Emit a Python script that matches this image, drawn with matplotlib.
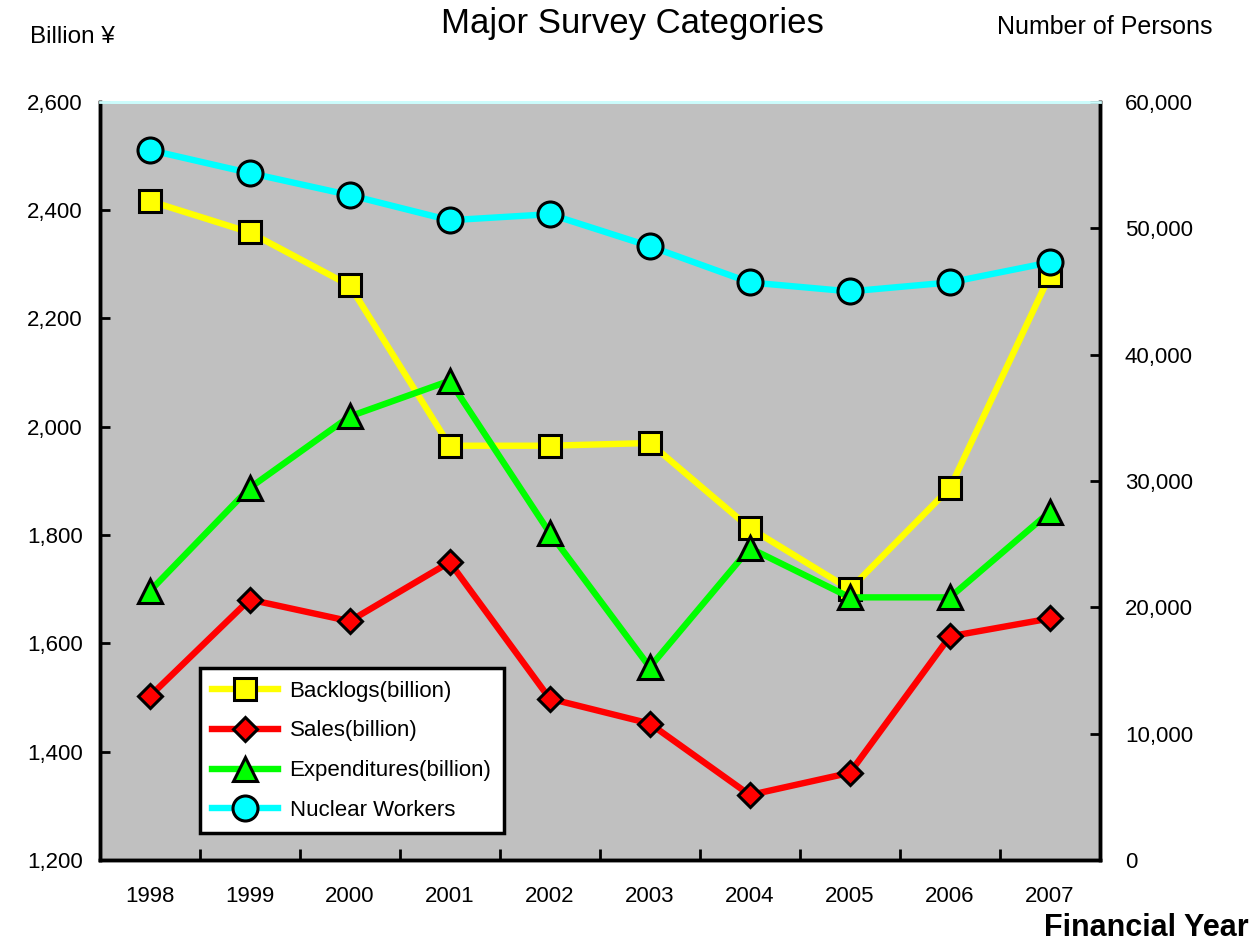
import matplotlib.pyplot as plt
from matplotlib.ticker import FuncFormatter

plt.rcParams['font.family'] = ['Liberation Sans', 'DejaVu Sans']

# Data
years = ['1998', '1999', '2000', '2001', '2002', '2003', '2004', '2005', '2006', '2007']
backlogs = [2417, 2359, 2261, 1965, 1965, 1970, 1813, 1700, 1887, 2280]
sales = [1502, 1681, 1641, 1750, 1498, 1452, 1320, 1361, 1613, 1646]
expenditures = [1696, 1887, 2019, 2085, 1804, 1556, 1776, 1685, 1685, 1843]
workers = [56190, 54370, 52620, 50630, 51110, 48570, 45710, 45000, 45710, 47300]

x = list(range(len(years)))

fig = plt.figure(figsize=(12.6, 9.43), dpi=100)
ax = fig.add_axes([0.079, 0.088, 0.794, 0.804])
ax.set_facecolor('#c0c0c0')
ax2 = ax.twinx()

lw = 4.6
mew = 2.2
l1, = ax.plot(x, backlogs, color='#ffff00', lw=lw, marker='s', ms=16,
              mfc='#ffff00', mec='black', mew=mew, label='Backlogs(billion)', zorder=3)
l2, = ax.plot(x, sales, color='#ff0000', lw=lw, marker='D', ms=12,
              mfc='#ff0000', mec='black', mew=mew, label='Sales(billion)', zorder=3)
l3, = ax.plot(x, expenditures, color='#00ff00', lw=lw, marker='^', ms=17,
              mfc='#00ff00', mec='black', mew=mew, label='Expenditures(billion)', zorder=3)
l4, = ax2.plot(x, workers, color='#00ffff', lw=lw, marker='o', ms=18,
               mfc='#00ffff', mec='black', mew=mew, label='Nuclear Workers', zorder=3)

ax.set_xlim(-0.5, 9.5)
ax.set_ylim(1200, 2600)
ax2.set_ylim(0, 60000)
ax.set_yticks(range(1200, 2601, 200))
ax2.set_yticks(range(0, 60001, 10000))
comma = FuncFormatter(lambda v, p: f'{int(v):,}')
ax.yaxis.set_major_formatter(comma)
ax2.yaxis.set_major_formatter(comma)

# category labels centered, tick marks between categories
ax.set_xticks(x)
ax.set_xticklabels(years, fontsize=16)
ax.set_xticks([i + 0.5 for i in x[:-1]], minor=True)
ax.tick_params(axis='x', which='major', length=0, pad=19)
ax.tick_params(axis='x', which='minor', direction='in', length=8, width=2)
ax.tick_params(axis='y', direction='in', length=7, width=2, labelsize=16, pad=12)
ax2.tick_params(axis='y', direction='in', length=7, width=2, labelsize=16, pad=18)

for a in (ax, ax2):
    for s in ('left', 'right', 'bottom'):
        a.spines[s].set_linewidth(2.5)
        a.spines[s].set_color('black')
    a.spines['top'].set_color('#ccfcfc')
    a.spines['top'].set_linewidth(2)

leg = ax2.legend(handles=[l1, l2, l3, l4], loc='lower left',
                 bbox_to_anchor=(0.1, 0.035), fontsize=16, frameon=True,
                 fancybox=False, edgecolor='black', framealpha=1,
                 handlelength=3.0, handletextpad=0.5, borderpad=0.55,
                 labelspacing=0.85, borderaxespad=0)
leg.get_frame().set_linewidth(2.5)

fig.text(0.502, 0.975, 'Major Survey Categories', ha='center', va='center', fontsize=25)
fig.text(0.024, 0.961, 'Billion ¥', ha='left', va='center', fontsize=17.5)
fig.text(0.962, 0.971, 'Number of Persons', ha='right', va='center', fontsize=18)
fig.text(0.991, 0.016, 'Financial Year', ha='right', va='center', fontsize=22,
         fontweight='bold')

fig.savefig('out.png', dpi=100)
